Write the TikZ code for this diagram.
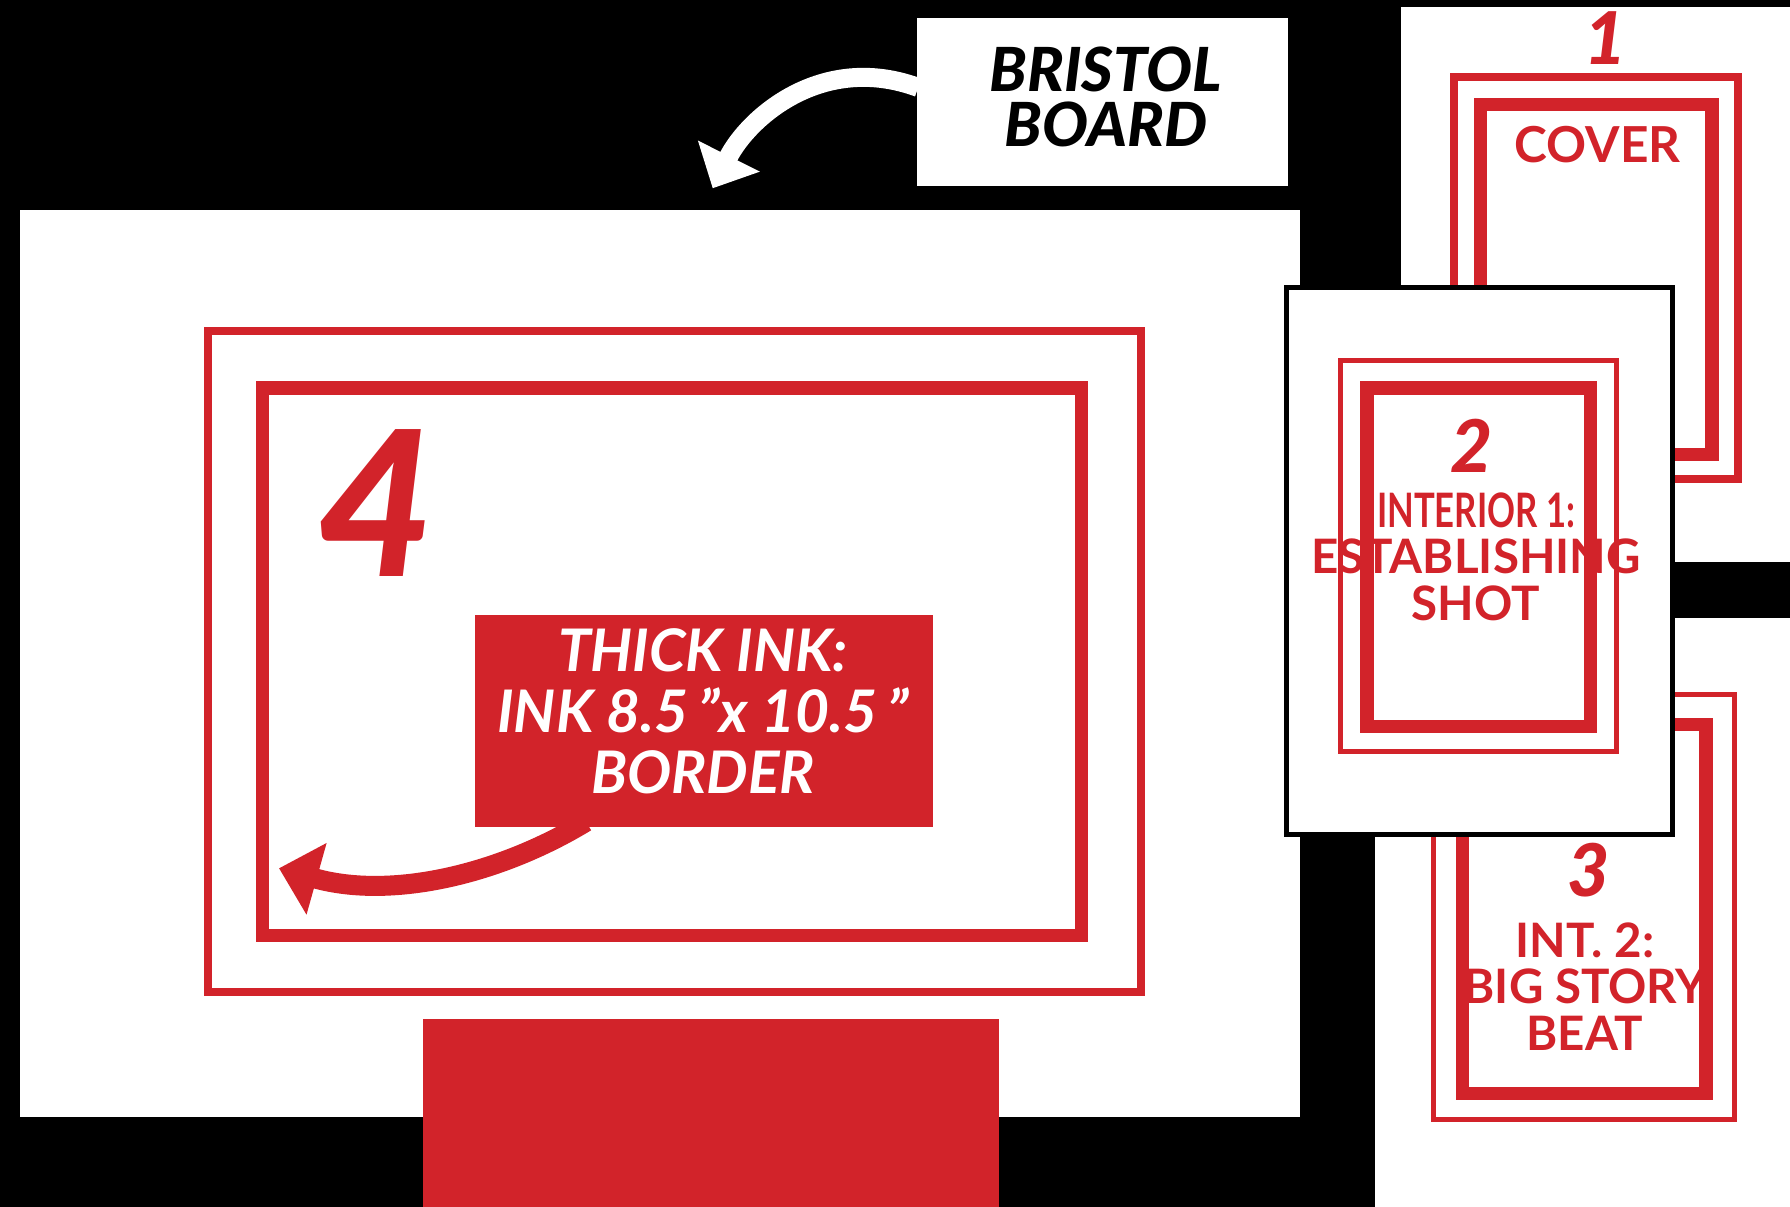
\documentclass[tikz,border=0pt]{standalone}
\usepackage{fontspec}
\setmainfont{Lato}
\newfontfamily\heavyfont{Lato}[UprightFont={* Black}, ItalicFont={* Black Italic}, BoldFont={* Black}, BoldItalicFont={* Black Italic}]
\usepackage{graphicx}
\usetikzlibrary{arrows.meta, calc, positioning}
\definecolor{inkred}{HTML}{D2232A}

\begin{document}
\begin{tikzpicture}[x=0.01cm, y=-0.01cm,
    every node/.style={inner sep=0pt},
    thinframe/.style={draw=inkred, line width=0.08cm},
    slimframe/.style={draw=inkred, line width=0.05cm},
    thickframe/.style={draw=inkred, line width=0.133cm},
    bristolbox/.style={fill=white, minimum width=3.71cm, minimum height=1.68cm},
    inkbox/.style={fill=inkred, minimum width=4.58cm, minimum height=2.12cm},
    bristoltext/.style={font=\fontsize{17.3}{15.8}\selectfont\heavyfont\itshape, align=center},
    inktext/.style={text=white, font=\fontsize{16.7}{17.4}\selectfont\bfseries\itshape, align=center},
    pagenum/.style={text=inkred, font=\fontsize{20.7}{20.7}\selectfont\heavyfont\itshape},
    pagetext/.style={text=inkred, font=\fontsize{13.5}{13.2}\selectfont\bfseries, align=center},
    whitearr/.style={draw=white, line width=0.19cm, -{Triangle[length=0.36cm, width=0.67cm]}},
    redarr/.style={draw=inkred, line width=0.2cm, -{Triangle[length=0.39cm, width=0.72cm]}}
]
    % background and bounding box
    \fill[black] (0,0) rectangle (1790,1207);
    \useasboundingbox (0,0) rectangle (1790,1207);

    % label for the board
    \node[bristolbox] (bristol) at (1102.5,102) {};
    \node[bristoltext] (bristoltxt) at (1106,97) {BRISTOL\\BOARD};

    % page 1: cover
    \fill[white] (1401,7) rectangle (1790,562);
    \draw[thinframe] (1454.3,77) rectangle (1738.3,479.2);
    \draw[thickframe] (1480.7,104.7) rectangle (1712,454.2);
    \node[pagenum] (num1) at (1606,38.5) {1};
    \node[pagetext, font=\fontsize{14.1}{14}\selectfont\bfseries] (cover) at (1597.5,144.5) {COVER};

    % page 3: second interior
    \fill[white] (1375,618) rectangle (1790,1207);
    \draw[slimframe] (1433.5,694.3) rectangle (1734.2,1120);
    \draw[thickframe] (1462.3,724.3) rectangle (1706,1093.5);
    \node[pagenum] (num3) at (1589,870.5) {3};
    \node[pagetext] (int2) at (1585,986.5) {INT. 2:\\BIG STORY\\BEAT};

    % page 4: bristol board
    \fill[white] (20,210) rectangle (1300,1117);
    \draw[thinframe] (208.3,330.7) rectangle (1141.3,992.3);
    \draw[thickframe] (262.7,388) rectangle (1081.7,935.7);
    \fill[inkred] (423,1019) rectangle (999,1207);
    \node[pagenum, font=\fontsize{57.6}{57.6}\selectfont\heavyfont\itshape] (num4) at (376,503) {4};
    \node[inkbox] (ink) at (704,721) {};
    \node[inktext] (inktxt) at (703,711) {THICK INK:\\INK 8.5\,"x 10.5\,"\\BORDER};

    % page 2: first interior
    \draw[black, line width=0.05cm, fill=white] (1286.5,287.5) rectangle (1672.3,834.5);
    \draw[slimframe] (1340.5,360.2) rectangle (1616.7,751.8);
    \draw[thickframe] (1367,388) rectangle (1590.7,726.7);
    \node[pagenum] (num2) at (1472,446) {2};
    \node[pagetext] (int1) at (1476,556.5) {\scalebox{0.73}[1]{INTERIOR 1:}\\ESTABLISHING\\SHOT};

    % arrows
    \coordinate (boardtip) at (712.7,188.3);
    \coordinate (inktip) at (279,868.3);
    \draw[whitearr] ($(bristol.west)+(2,-14.5)$) .. controls (822,52) and (748,118) .. (boardtip);
    \draw[redarr] ($(ink.south)+(-118,-6)$) .. controls (500,874) and (392,900) .. (inktip);
\end{tikzpicture}
\end{document}
